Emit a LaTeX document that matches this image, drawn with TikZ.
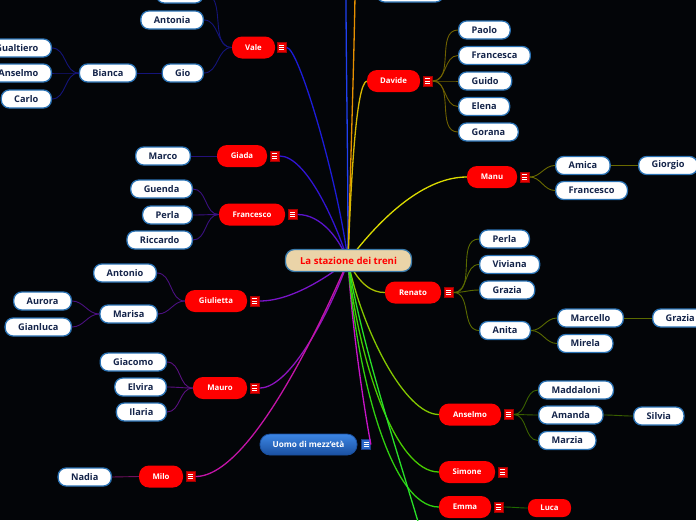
\documentclass[tikz,border=0pt]{standalone}
\usepackage{fontspec}
\setmainfont{Open Sans}
\usetikzlibrary{calc}
\definecolor{bg}{HTML}{030508}
\definecolor{leafb}{HTML}{2A72B4}
\definecolor{leaft}{HTML}{14244A}
\definecolor{redn}{HTML}{FF0000}
\definecolor{redi}{HTML}{E80000}
\definecolor{redd}{HTML}{A00000}
\definecolor{cenf}{HTML}{EAD4A8}
\definecolor{cenb}{HTML}{3A7AAA}
\definecolor{bluef}{HTML}{2A68C8}
\definecolor{bluet}{HTML}{3C86E4}
\definecolor{blueb}{HTML}{1A50A0}
\definecolor{blued}{HTML}{1A3A80}
\definecolor{cVale}{HTML}{1C1CD8}
\definecolor{cGiada}{HTML}{3214D4}
\definecolor{cFran}{HTML}{5A14CC}
\definecolor{cGiul}{HTML}{7A14C8}
\definecolor{cMauro}{HTML}{8E14C0}
\definecolor{cMilo}{HTML}{C414A8}
\definecolor{cUomo}{HTML}{C814C8}
\definecolor{cBlue}{HTML}{2040F0}
\definecolor{cOrange}{HTML}{E89000}
\definecolor{cDavide}{HTML}{D8B800}
\definecolor{cManu}{HTML}{DCDC00}
\definecolor{cRenato}{HTML}{A8C000}
\definecolor{cAnselmo}{HTML}{84C800}
\definecolor{cSimone}{HTML}{48CC00}
\definecolor{cEmma}{HTML}{30D010}
\definecolor{cBot}{HTML}{28E028}
\definecolor{sVale}{HTML}{14147A}
\definecolor{sGiada}{HTML}{24107A}
\definecolor{sFran}{HTML}{3A1080}
\definecolor{sGiul}{HTML}{4A1080}
\definecolor{sMauro}{HTML}{5A1080}
\definecolor{sMilo}{HTML}{701060}
\definecolor{sDavide}{HTML}{6E6000}
\definecolor{sManu}{HTML}{6A6A00}
\definecolor{sRenato}{HTML}{5A6A00}
\definecolor{sAnselmo}{HTML}{3A6000}
\definecolor{sEmma}{HTML}{1E6A00}
\begin{document}
\begin{tikzpicture}[x=1pt,y=-1pt,
  leaf/.style={draw=leafb, line width=1.3pt, fill=white, rounded corners=8pt,
    minimum height=18pt, inner xsep=13pt, inner ysep=0pt, text=leaft,
    font=\fontsize{9.2}{10}\selectfont\bfseries},
  rnode/.style={fill=redn, rounded corners=10pt, minimum height=22pt,
    inner xsep=2pt, inner ysep=0pt, text=white, font=\fontsize{7.8}{8}\selectfont\bfseries},
  iconbars/.style={path picture={
    \foreach \d in {-2.3,0,2.3}{\draw[white,line width=0.7pt]
      ([xshift=2pt,yshift=\d pt]path picture bounding box.west) --
      ([xshift=-2pt,yshift=\d pt]path picture bounding box.east);}}},
  ricon/.style={fill=redi, draw=redd, line width=0.5pt, minimum width=9pt,
    minimum height=10pt, inner sep=0pt, anchor=west, iconbars},
  bicon/.style={fill=bluef, draw=blued, line width=0.5pt, minimum width=9pt,
    minimum height=10pt, inner sep=0pt, anchor=west, iconbars},
  main/.style={line width=1.3pt},
  sub/.style={line width=0.9pt},
]
\useasboundingbox (0,0) rectangle (696,520);
\fill[bg] (0,0) rectangle (696,520);
\coordinate (c) at (348,261);
\coordinate (topB) at (346,-5);
\coordinate (topO) at (355,-5);
\coordinate (botG) at (419,525);

% ---------- red main nodes ----------
\node[rnode, minimum width=43pt] (vale) at (253.5,47.5) {Vale};
\node[rnode, minimum width=53pt] (davide) at (393.5,81) {Davide};
\node[rnode, minimum width=50pt] (giada) at (242,156) {Giada};
\node[rnode, minimum width=66pt] (fran) at (252,214.5) {Francesco};
\node[rnode, minimum width=62pt] (giul) at (216,301) {Giulietta};
\node[rnode, minimum width=54pt] (mauro) at (220,388) {Mauro};
\node[rnode, minimum width=44pt] (milo) at (161,476.5) {Milo};
\node[rnode, minimum width=50pt] (manu) at (492,177) {Manu};
\node[rnode, minimum width=56pt] (renato) at (413,292.5) {Renato};
\node[rnode, minimum width=62pt] (anselmo) at (470,414.5) {Anselmo};
\node[rnode, minimum width=56pt] (simone) at (467,472) {Simone};
\node[rnode, minimum width=52pt] (emma) at (465,507) {Emma};
\node[rnode, minimum width=43pt, minimum height=18pt, rounded corners=8pt] (luca) at (549.5,508) {Luca};
\node[draw=blueb, line width=0.8pt, top color=bluet, bottom color=blueb,
  rounded corners=10pt, minimum width=97pt, minimum height=21pt, inner sep=0pt,
  text=white, font=\fontsize{8.2}{9}\selectfont\bfseries] (uomo) at (308.5,444.5) {Uomo di mezz'età};

% icons
\node[ricon] (ivale) at ([xshift=2pt]vale.east) {};
\node[ricon] (idavide) at ([xshift=3pt]davide.east) {};
\node[ricon] (igiada) at ([xshift=3pt]giada.east) {};
\node[ricon] (ifran) at ([xshift=3pt]fran.east) {};
\node[ricon] (igiul) at ([xshift=3pt]giul.east) {};
\node[ricon] (imauro) at ([xshift=3pt]mauro.east) {};
\node[ricon] (imilo) at ([xshift=3pt]milo.east) {};
\node[ricon] (imanu) at ([xshift=3pt]manu.east) {};
\node[ricon] (irenato) at ([xshift=3pt]renato.east) {};
\node[ricon] (ianselmo) at ([xshift=3pt]anselmo.east) {};
\node[ricon] (isimone) at ([xshift=3pt]simone.east) {};
\node[ricon] (iemma) at ([xshift=3pt]emma.east) {};
\node[bicon] (iuomo) at ([xshift=4pt]uomo.east) {};

% ---------- leaves ----------
\node[leaf, anchor=east, minimum width=47pt] (topv) at (204,-6) {};
\node[leaf, anchor=east] (antonia) at (204,20) {Antonia};
\node[leaf, anchor=east] (gio) at (204,73) {Gio};
\node[leaf, anchor=east] (bianca) at (137,73) {Bianca};
\node[leaf, anchor=east] (gualtiero) at (52,48) {Gualtiero};
\node[leaf, anchor=east] (anselmol) at (52,73) {Anselmo};
\node[leaf, anchor=east] (carlo) at (52,99) {Carlo};
\node[leaf, anchor=east] (marco) at (191,156) {Marco};
\node[leaf, anchor=east] (guenda) at (193,189) {Guenda};
\node[leaf, anchor=east] (perlal) at (193,215) {Perla};
\node[leaf, anchor=east] (riccardo) at (193,240) {Riccardo};
\node[leaf, anchor=east] (antonio) at (157,273) {Antonio};
\node[leaf, anchor=east] (marisa) at (158,314) {Marisa};
\node[leaf, anchor=east] (aurora) at (72,301) {Aurora};
\node[leaf, anchor=east] (gianluca) at (72,327) {Gianluca};
\node[leaf, anchor=east] (giacomo) at (167,362) {Giacomo};
\node[leaf, anchor=east] (elvira) at (167,387) {Elvira};
\node[leaf, anchor=east] (ilaria) at (167,412) {Ilaria};
\node[leaf, anchor=east] (nadia) at (112,477) {Nadia};

\node[leaf, anchor=west, minimum width=67pt] (topr) at (376,-7) {};
\node[leaf, anchor=west] (paolo) at (458,30) {Paolo};
\node[leaf, anchor=west] (francesca) at (458,55.5) {Francesca};
\node[leaf, anchor=west] (guido) at (458,81) {Guido};
\node[leaf, anchor=west] (elena) at (458,106.5) {Elena};
\node[leaf, anchor=west] (gorana) at (458,132) {Gorana};
\node[leaf, anchor=west] (amica) at (555,165.5) {Amica};
\node[leaf, anchor=west] (franr) at (555,190.5) {Francesco};
\node[leaf, anchor=west] (giorgio) at (638,165.5) {Giorgio};
\node[leaf, anchor=west] (perlar) at (479,239) {Perla};
\node[leaf, anchor=west] (viviana) at (479,264.5) {Viviana};
\node[leaf, anchor=west] (graziar) at (479,290) {Grazia};
\node[leaf, anchor=west] (anita) at (479,330.5) {Anita};
\node[leaf, anchor=west] (marcello) at (557,318) {Marcello};
\node[leaf, anchor=west] (mirela) at (557,343.5) {Mirela};
\node[leaf, anchor=west] (grazia2) at (652,318) {Grazia};
\node[leaf, anchor=west] (maddaloni) at (538,390) {Maddaloni};
\node[leaf, anchor=west] (amanda) at (538,415) {Amanda};
\node[leaf, anchor=west] (marzia) at (538,440.5) {Marzia};
\node[leaf, anchor=west] (silvia) at (633,416) {Silvia};

% ---------- main connectors (behind centre node) ----------
\begin{scope}[main]
\draw[cBlue] (c) .. controls (348,150) and (346,60) .. (topB);
\draw[cOrange] (c) .. controls (351,150) and (354,60) .. (topO);
\draw[cVale] (ivale.east) .. controls +(12,0) and +(-10,-80) .. (c);
\draw[cGiada] (igiada.east) .. controls +(26,0) and +(-13,-41) .. (c);
\draw[cFran] (ifran.east) .. controls +(24,0) and +(-8,-21) .. (c);
\draw[cGiul] (igiul.east) .. controls +(33,0) and +(-18,14) .. (c);
\draw[cMauro] (imauro.east) .. controls +(33,0) and +(-13,39) .. (c);
\draw[cMilo] (imilo.east) .. controls +(60,0) and +(-13,29) .. (c);
\draw[cUomo] (c) .. controls +(4,70) and +(-5,-25) .. (iuomo.east);
\draw[cDavide] (c) .. controls (351,180) and (356,84) .. (davide.west);
\draw[cManu] (c) .. controls (375,225) and (420,177) .. (manu.west);
\draw[cRenato] (c) .. controls (360,285) and (372,292.5) .. (renato.west);
\draw[cAnselmo] (c) .. controls (362,330) and (405,414.5) .. (anselmo.west);
\draw[cSimone] (c) .. controls (358,360) and (395,472) .. (simone.west);
\draw[cEmma] (c) .. controls (356,370) and (390,507) .. (emma.west);
\draw[cBot] (c) .. controls (360,340) and (400,460) .. (botG);
\end{scope}

\node[draw=cenb, line width=1.3pt, fill=cenf, rounded corners=9pt,
  minimum width=126pt, minimum height=22pt, inner sep=0pt, text=redn,
  font=\fontsize{9.6}{10}\selectfont\bfseries] (centre) at (348.5,260.5) {La stazione dei treni};

% ---------- sub connectors ----------
\begin{scope}[sub]
\draw[sVale] (vale.west) to[out=180,in=0] (topv.east);
\draw[sVale] (vale.west) to[out=180,in=0] (antonia.east);
\draw[sVale] (vale.west) to[out=180,in=0] (gio.east);
\draw[sVale] (gio.west) -- (bianca.east);
\draw[sVale] (bianca.west) to[out=180,in=0] (gualtiero.east);
\draw[sVale] (bianca.west) to[out=180,in=0] (anselmol.east);
\draw[sVale] (bianca.west) to[out=180,in=0] (carlo.east);
\draw[sGiada] (giada.west) -- (marco.east);
\draw[sFran] (fran.west) to[out=180,in=0] (guenda.east);
\draw[sFran] (fran.west) to[out=180,in=0] (perlal.east);
\draw[sFran] (fran.west) to[out=180,in=0] (riccardo.east);
\draw[sGiul] (giul.west) to[out=180,in=0] (antonio.east);
\draw[sGiul] (giul.west) to[out=180,in=0] (marisa.east);
\draw[sGiul] (marisa.west) to[out=180,in=0] (aurora.east);
\draw[sGiul] (marisa.west) to[out=180,in=0] (gianluca.east);
\draw[sMauro] (mauro.west) to[out=180,in=0] (giacomo.east);
\draw[sMauro] (mauro.west) to[out=180,in=0] (elvira.east);
\draw[sMauro] (mauro.west) to[out=180,in=0] (ilaria.east);
\draw[sMilo] (milo.west) -- (nadia.east);
\draw[sDavide] (idavide.east) to[out=0,in=180] (paolo.west);
\draw[sDavide] (idavide.east) to[out=0,in=180] (francesca.west);
\draw[sDavide] (idavide.east) to[out=0,in=180] (guido.west);
\draw[sDavide] (idavide.east) to[out=0,in=180] (elena.west);
\draw[sDavide] (idavide.east) to[out=0,in=180] (gorana.west);
\draw[sManu] (imanu.east) to[out=0,in=180] (amica.west);
\draw[sManu] (imanu.east) to[out=0,in=180] (franr.west);
\draw[sManu] (amica.east) -- (giorgio.west);
\draw[sRenato] (irenato.east) to[out=0,in=180] (perlar.west);
\draw[sRenato] (irenato.east) to[out=0,in=180] (viviana.west);
\draw[sRenato] (irenato.east) to[out=0,in=180] (graziar.west);
\draw[sRenato] (irenato.east) to[out=0,in=180] (anita.west);
\draw[sRenato] (anita.east) to[out=0,in=180] (marcello.west);
\draw[sRenato] (anita.east) to[out=0,in=180] (mirela.west);
\draw[sRenato] (marcello.east) -- (grazia2.west);
\draw[sAnselmo] (ianselmo.east) to[out=0,in=180] (maddaloni.west);
\draw[sAnselmo] (ianselmo.east) to[out=0,in=180] (amanda.west);
\draw[sAnselmo] (ianselmo.east) to[out=0,in=180] (marzia.west);
\draw[sAnselmo] (amanda.east) to[out=0,in=180] (silvia.west);
\draw[sEmma] (iemma.east) to[out=0,in=180] (luca.west);
\end{scope}
\end{tikzpicture}
\end{document}
